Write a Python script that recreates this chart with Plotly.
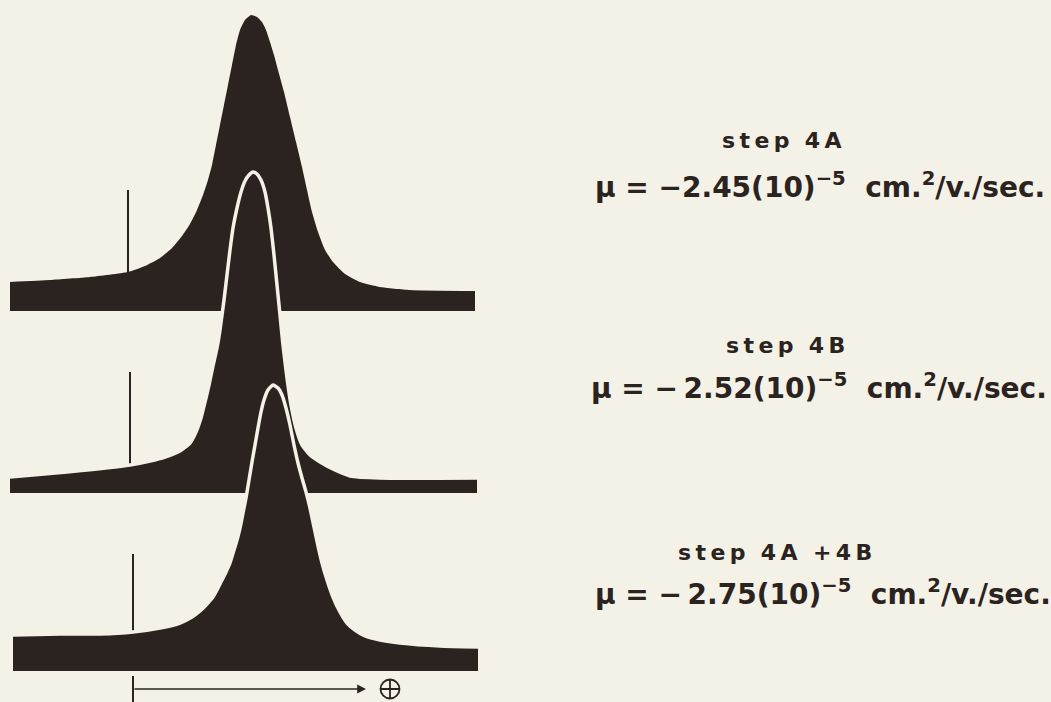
import plotly.graph_objects as go

# Migration distance (mm from the starting boundary) and refractive-index
# gradient deflection (arbitrary units above each pattern's baseline).
step4a_dist = [-12, -8, -4, -0.2, 1.5, 3.0, 4.2, 5.2, 6.0, 6.7, 7.3, 7.8, 8.2, 8.6, 9.0,
               9.4, 9.8, 10.2, 10.6, 11.0, 11.5, 12.1, 12.7, 13.2, 13.6, 14.0, 14.4,
               14.8, 15.4, 16.0, 16.6, 17.2, 17.7, 18.2, 18.8, 19.5, 20.3, 21.5, 23.0,
               25.0, 28.0, 34.5]
step4a_grad = [2.9, 3.1, 3.4, 3.9, 4.5, 5.3, 6.3, 7.5, 8.7, 10.1, 11.6, 13.1, 14.6, 16.6,
               18.6, 20.6, 22.6, 24.6, 26.6, 28.1, 29.1, 29.6, 29.4, 28.9, 28.1, 26.9,
               25.6, 24.1, 21.9, 19.4, 16.9, 14.4, 12.1, 9.9, 7.9, 6.1, 4.9, 3.7, 2.9,
               2.4, 2.1, 2.0]

step4b_dist = [-12, -6.3, 0, 2.0, 3.5, 5.0, 6.0, 6.6, 7.1, 7.5, 7.9, 8.3, 8.7, 9.0, 9.2,
               9.4, 9.7, 10.0, 10.3, 10.7, 11.1, 11.5, 11.9, 12.3, 12.7, 13.1, 13.5,
               13.8, 14.1, 14.4, 14.7, 15.0, 15.3, 15.7, 16.1, 16.6, 17.2, 18.0, 19.0,
               20.5, 22.0, 25.0, 34.7]
step4b_grad = [1.6, 2.1, 2.8, 3.2, 3.6, 4.2, 5.0, 6.1, 7.5, 9.1, 10.8, 12.7, 14.5, 16.3,
               17.8, 19.3, 21.8, 24.3, 26.5, 28.5, 30.1, 31.2, 31.8, 32.1, 31.9, 31.3,
               30.1, 28.5, 26.5, 23.8, 20.8, 17.8, 14.8, 11.5, 8.8, 6.5, 4.8, 3.8, 3.1,
               2.3, 1.7, 1.5, 1.5]

step4ab_dist = [-11.7, -7.0, -3.0, 0.3, 3.0, 5.0, 6.2, 7.0, 7.7, 8.3, 8.8, 9.2, 9.6, 10.0,
                10.4, 10.7, 11.0, 11.3, 11.6, 11.9, 12.2, 12.5, 12.8, 13.1, 13.4, 13.8,
                14.3, 14.8, 15.2, 15.6, 16.0, 16.4, 16.8, 17.2, 17.6, 18.0, 18.4, 18.8,
                19.2, 19.7, 20.3, 21.0, 21.7, 22.5, 23.5, 25.0, 27.0, 31.0, 34.8]
step4ab_grad = [3.6, 3.7, 3.7, 3.9, 4.3, 4.8, 5.4, 6.0, 6.7, 7.4, 8.3, 9.1, 9.9, 10.8,
                12.1, 13.1, 14.3, 15.8, 17.3, 19.1, 20.9, 22.6, 24.3, 25.9, 27.1, 28.1,
                28.6, 28.3, 27.6, 26.3, 24.6, 22.6, 20.8, 19.3, 17.9, 16.3, 14.4, 12.5,
                10.8, 9.1, 7.4, 5.9, 4.8, 4.1, 3.5, 3.1, 2.8, 2.5, 2.4]

step_labels = ["step 4A", "step 4B", "step 4A +4B"]
mobility = ["−2.45", "−\u20092.52", "−\u20092.75"]
start_marks = [-0.2, 0.0, 0.3]
start_mark_height = [12.1, 12.1, 11.7]

INK = "#2a2320"
PAPER = "#f4f1e7"

patterns = [
    (step4a_dist, step4a_grad),
    (step4b_dist, step4b_grad),
    (step4ab_dist, step4ab_grad),
]
# vertical stacking of the three tracings
offsets = [39.1, 20.9, 3.1]

fig = go.Figure()

# starting-boundary marks
for off, sx, sh in zip(offsets, start_marks, start_mark_height):
    fig.add_trace(go.Scatter(x=[sx, sx], y=[off, off + sh], mode="lines",
                             line=dict(color=INK, width=2), hoverinfo="skip"))

for i, ((dist, grad), off) in enumerate(zip(patterns, offsets)):
    base_y = [off] * len(dist)
    top_y = [off + g for g in grad]
    fig.add_trace(go.Scatter(x=dist, y=base_y, mode="lines",
                             line=dict(color=INK, width=0), hoverinfo="skip"))
    fig.add_trace(go.Scatter(
        x=dist, y=top_y, mode="lines", fill="tonexty", fillcolor=INK,
        line=dict(color=PAPER if i > 0 else INK, width=3.5 if i > 0 else 0,
                  shape="spline", smoothing=0.5),
        hoverinfo="skip"))

# direction of migration toward the anode
fig.add_trace(go.Scatter(x=[0.3, 0.3], y=[-0.5, 2.6], mode="lines",
                         line=dict(color=INK, width=2), hoverinfo="skip"))
fig.add_annotation(x=23.6, y=1.3, ax=0.3, ay=1.3, axref="x", ayref="y",
                   xref="x", yref="y", text="", showarrow=True, arrowhead=2,
                   arrowsize=1.1, arrowwidth=1.6, arrowcolor=INK)
fig.add_trace(go.Scatter(x=[26.0], y=[1.3], mode="markers", hoverinfo="skip",
                         marker=dict(symbol="circle-cross-open", size=19,
                                     color=INK, line=dict(color=INK, width=1.8))))

W, H = 1051, 702
label_pos = [(782, 141), (785, 345), (775, 552)]
mu_pos = [(820, 186), (819, 386), (823, 592)]


def spaced(s):
    words = s.split(" ")
    return "\u2002\u2009".join("\u2009".join(w) for w in words)


for lab, mu, (lx, ly), (mx, my) in zip(step_labels, mobility, label_pos, mu_pos):
    fig.add_annotation(x=lx / W, y=1 - ly / H, xref="paper", yref="paper",
                       text=spaced(lab), showarrow=False, xanchor="center",
                       yanchor="middle",
                       font=dict(family="DejaVu Sans", size=22, color=INK, weight="bold"))
    fig.add_annotation(
        x=mx / W, y=1 - my / H, xref="paper", yref="paper",
        text=f"μ = {mu}(10)<sup>−5</sup>\u00a0\u00a0cm.<sup>2</sup>/v./sec.",
        showarrow=False, xanchor="center", yanchor="middle",
        font=dict(family="DejaVu Sans", size=28, color=INK, weight="bold"))

fig.update_layout(
    width=W, height=H, margin=dict(l=0, r=0, t=0, b=0),
    paper_bgcolor=PAPER, plot_bgcolor=PAPER, showlegend=False,
    xaxis=dict(visible=False, range=[-13, 92.1], fixedrange=True),
    yaxis=dict(visible=False, range=[0, 70.2], fixedrange=True),
)

fig.write_html("out.html")
